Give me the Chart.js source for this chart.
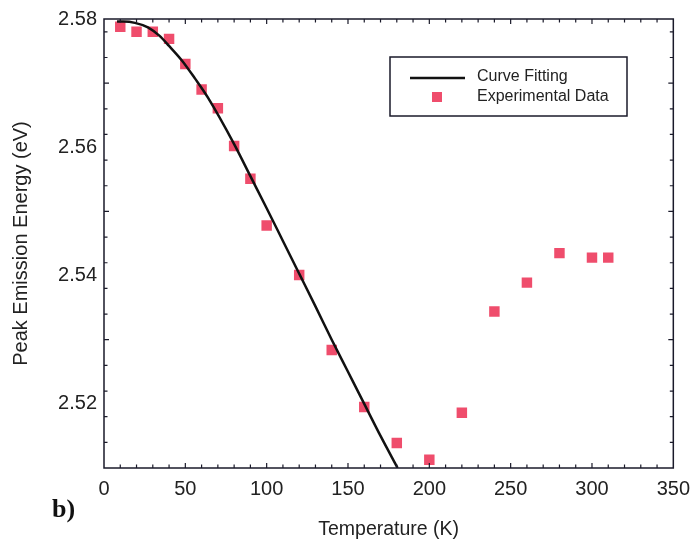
<!DOCTYPE html>
<html>
<head>
<meta charset="utf-8">
<script src="https://cdn.jsdelivr.net/npm/chart.js@4"></script>
<style>
  html, body { margin: 0; padding: 0; background: #fff; }
  #wrap { width: 699px; height: 548px; }
</style>
</head>
<body>
<div id="wrap"><canvas id="myChart" width="699" height="548"></canvas></div>
<script>
// ==== measured points ====
let temps = [10, 20, 30, 40, 50, 60, 70, 80, 90, 100, 120, 140, 160, 180, 200, 220, 240, 260, 280, 300, 310];
let energies = [2.5788, 2.5780, 2.5780, 2.5769, 2.5730, 2.5690, 2.5661, 2.5602, 2.5551, 2.5478, 2.5401,
    2.5284, 2.5195, 2.5139, 2.5113, 2.5186, 2.5344, 2.5389, 2.5435, 2.5428, 2.5428];

// ==== fitted curve ====
let fitTemps = [8, 12, 19, 27, 34, 40, 48, 56, 64, 80, 90, 100, 110, 120, 130, 140, 150, 160, 170, 180.5];
let fitEnergies = [2.5796, 2.5796, 2.5794, 2.5787, 2.5774, 2.5758, 2.5735, 2.5707, 2.5677, 2.5605,
    2.5555, 2.5505, 2.5454, 2.5403, 2.5352, 2.5300, 2.5250, 2.5200, 2.5150, 2.5100];

let xTicks = [0, 50, 100, 150, 200, 250, 300, 350];
let yTicks = [2.52, 2.54, 2.56, 2.58];

const font = 'Arial, "Liberation Sans", sans-serif';
const markColor = '#ef4d6c';

// ==== ramka va ichki tick chiziqlari ====
const frameTicks = {
    id: 'frameTicks',
    afterDraw(chart) {
        const ctx = chart.ctx;
        const a = chart.chartArea;
        const sx = chart.scales.x;
        const sy = chart.scales.y;
        ctx.save();
        ctx.strokeStyle = '#1a1a2a';
        ctx.lineWidth = 1.5;
        ctx.strokeRect(a.left, a.top, a.right - a.left, a.bottom - a.top);

        ctx.lineWidth = 1.2;
        ctx.beginPath();
        for (let t = 10; t < 350; t += 10) {
            let px = sx.getPixelForValue(t);
            let len = t % 50 === 0 ? 5 : 3.5;
            ctx.moveTo(px, a.bottom); ctx.lineTo(px, a.bottom - len);
            ctx.moveTo(px, a.top); ctx.lineTo(px, a.top + len);
        }
        for (let i = 1; i < 18; i++) {
            let v = 2.51 + i * 0.004;
            let py = sy.getPixelForValue(v);
            let len = i % 5 === 0 ? 5 : 3.5;
            ctx.moveTo(a.left, py); ctx.lineTo(a.left + len, py);
            ctx.moveTo(a.right, py); ctx.lineTo(a.right - len, py);
        }
        ctx.stroke();
        ctx.restore();
    }
};

// ==== legenda va "b)" yozuvi ====
const legendBox = {
    id: 'legendBox',
    afterDraw(chart) {
        const ctx = chart.ctx;
        const ds = chart.data.datasets;
        ctx.save();
        ctx.strokeStyle = '#1a1a2a';
        ctx.lineWidth = 1.5;
        ctx.strokeRect(390, 57, 237, 59);

        ctx.strokeStyle = '#111';
        ctx.lineWidth = 2.5;
        ctx.beginPath();
        ctx.moveTo(410, 78); ctx.lineTo(465, 78);
        ctx.stroke();

        ctx.fillStyle = markColor;
        ctx.fillRect(432, 92, 10, 10);

        ctx.fillStyle = '#222';
        ctx.font = '16px ' + font;
        ctx.textBaseline = 'middle';
        ctx.fillText(ds[0].label, 477, 77);
        ctx.fillText(ds[1].label, 477, 97);

        ctx.font = 'bold 26px "Liberation Serif", "Times New Roman", serif';
        ctx.fillStyle = '#111';
        ctx.fillText('b)', 52, 510);
        ctx.restore();
    }
};

let config = {
    type: 'scatter',
    data: {
        datasets: [
            {
                label: 'Curve Fitting',
                data: fitTemps.map((t, i) => ({ x: t, y: fitEnergies[i] })),
                showLine: true,
                borderColor: '#111',
                borderWidth: 2.5,
                pointRadius: 0,
                cubicInterpolationMode: 'monotone'
            },
            {
                label: 'Experimental Data',
                data: temps.map((t, i) => ({ x: t, y: energies[i] })),
                backgroundColor: markColor,
                borderColor: markColor,
                borderWidth: 0,
                pointStyle: 'rect',
                pointRadius: 7.4
            }
        ]
    },
    options: {
        responsive: false,
        animation: false,
        layout: { padding: { left: 0, right: 25, top: 16, bottom: 0 } },
        plugins: { legend: { display: false }, tooltip: { enabled: false } },
        scales: {
            x: {
                type: 'linear',
                min: 0,
                max: 350,
                afterBuildTicks: s => { s.ticks = xTicks.map(v => ({ value: v })); },
                afterFit: s => { s.height = 80; },
                grid: { display: false, drawTicks: false },
                border: { display: false },
                ticks: { color: '#222', font: { family: font, size: 20 }, padding: 9, maxRotation: 0 },
                title: { display: true, text: 'Temperature (K)', color: '#222',
                    font: { family: font, size: 19.5 }, padding: { top: 0, bottom: 7 } }
            },
            y: {
                type: 'linear',
                min: 2.51,
                max: 2.58,
                afterBuildTicks: s => { s.ticks = yTicks.map(v => ({ value: v })); },
                afterFit: s => { s.width = 104; },
                grid: { display: false, drawTicks: false },
                border: { display: false },
                ticks: { color: '#222', font: { family: font, size: 20 }, padding: 7,
                    callback: v => v.toFixed(2) },
                title: { display: true, text: 'Peak Emission Energy (eV)', color: '#222',
                    font: { family: font, size: 20 }, padding: { top: 9, bottom: 0 } }
            }
        }
    },
    plugins: [frameTicks, legendBox]
};

let myChart = new Chart(document.getElementById('myChart'), config);
</script>
</body>
</html>
